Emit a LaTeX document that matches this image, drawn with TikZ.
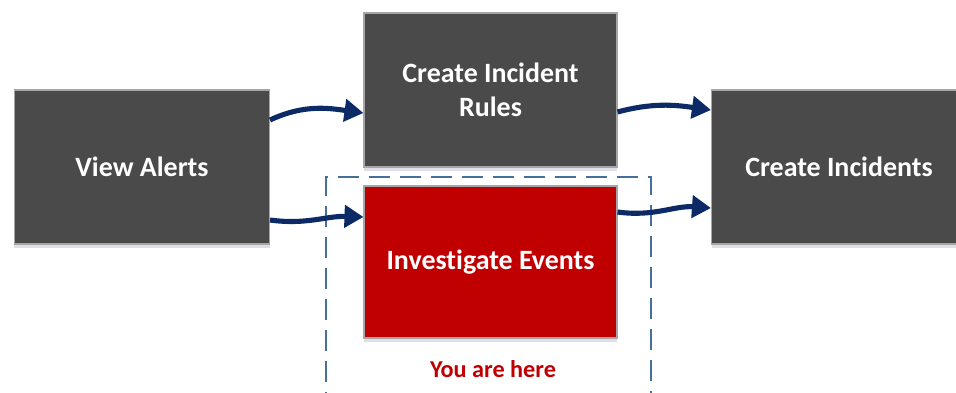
\documentclass[tikz,border=0pt]{standalone}
\usepackage{fontspec}
\setmainfont[Ligatures={NoCommon}]{Carlito}
\usepackage{tikz}
\usetikzlibrary{arrows.meta, shadows}

\definecolor{boxgray}{HTML}{4A4A4A}
\definecolor{hereRed}{HTML}{C00000}
\definecolor{arrowNavy}{HTML}{0B2A66}
\definecolor{dashBlue}{HTML}{46709A}

\begin{document}
\begin{tikzpicture}[
    box/.style={
        draw=gray!70,
        line width=0.6pt,
        fill=boxgray,
        text=white,
        align=center,
        minimum width=5.1cm,
        minimum height=3.08cm,
        font=\bfseries\fontsize{15.9}{19}\selectfont,
        drop shadow={shadow xshift=0pt, shadow yshift=-2pt, fill=blue!20!gray!35, opacity=0.6}
    },
    arrow/.style={-{Triangle[length=0.38cm, width=0.44cm]}, line width=2.9pt, draw=arrowNavy}
]
\useasboundingbox (0,0) rectangle (19.12,7.86);

\draw[dashBlue, line width=1pt, dash pattern=on 0.42cm off 0.2cm] (6.52,-0.4) -- (6.52,4.32) -- (13.02,4.32) -- (13.02,-0.4);

\node[box] (alerts) at (2.84,4.52) {View Alerts};
\node[box, minimum width=5.06cm] (rules) at (9.81,6.06) {Create Incident\\Rules};
\node[box, minimum width=5.06cm, minimum height=3.04cm, fill=hereRed] (events) at (9.81,2.62) {Investigate Events};
\node[box] (incidents) at (16.78,4.52) {Create Incidents};

\node[text=hereRed, font=\bfseries\fontsize{13.8}{16}\selectfont] (here) at (9.86,0.48) {You are here};

\draw[arrow] ([yshift=0.94cm]alerts.east) to[out=25, in=172] ([yshift=-0.46cm]rules.west);
\draw[arrow] ([yshift=-1.06cm]alerts.east) to[out=-8, in=178] ([yshift=0.9cm]events.west);
\draw[arrow] ([yshift=-0.44cm]rules.east) to[out=15, in=172] ([yshift=1.14cm]incidents.west);
\draw[arrow] ([yshift=1.0cm]events.east) to[out=-8, in=176] ([yshift=-0.82cm]incidents.west);

\end{tikzpicture}
\end{document}
